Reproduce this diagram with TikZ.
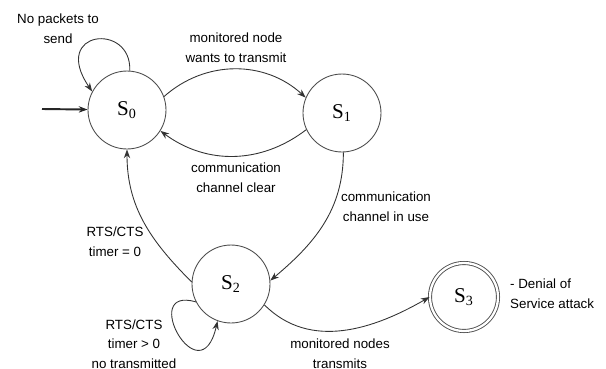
\documentclass[tikz,border=0pt]{standalone}
\usepackage{fontspec}
\setmainfont{Liberation Sans}
\newfontfamily\statefont{Liberation Serif}
\usetikzlibrary{arrows.meta}

\begin{document}
\begin{tikzpicture}[>={Stealth[length=5pt,width=3.6pt]},x=0.02cm,y=-0.02cm,
		state/.style={circle,draw=black!70,line width=0.5pt,minimum size=1.56cm,inner sep=0pt,
			font=\statefont\fontsize{12}{14}\selectfont},
		accept/.style={state,double,double distance=1.3pt,minimum size=1.36cm},
		lbl/.style={align=center,font=\fontsize{7.6}{11.2}\selectfont},
		trans/.style={->,draw=black!80,line width=0.5pt}]
	\useasboundingbox (0,0) rectangle (606,369);
	% states
	\node[state] (s0) at (127,110) {S\textsubscript{0}};
	\node[state] (s1) at (342,113) {S\textsubscript{1}};
	\node[state] (s2) at (231,284) {S\textsubscript{2}};
	\node[accept] (s3) at (464,297) {S\textsubscript{3}};
	\coordinate (init) at (42,109);
	% transitions
	\draw[->,line width=1.1pt,black!85] (init) -- (s0);
	\draw[trans] (s0.86) .. controls (132,22) and (50,30) .. (s0.152);
	\draw[trans] (s0.20) to[bend left=42] (s1.157);
	\draw[trans] (s1.205) to[bend left=37] (s0.328);
	\draw[trans] (s1.272) to[out=-90,in=40] (s2.5);
	\draw[trans] (s2.177) to[out=135,in=-90] (s0.270);
	\draw[trans] (s2.207) .. controls (138,285) and (200,398) .. (s2.250);
	\draw[trans] (s2.-32) to[out=-45,in=210] (s3.180);
	% labels
	\node[lbl] (nopkt) at (58,29) {No packets to\\send};
	\node[lbl] (wants) at (236,48) {monitored node\\wants to transmit};
	\node[lbl] (clear) at (236,178) {communication\\channel clear};
	\node[lbl] (inuse) at (386,207) {communication\\channel in use};
	\node[lbl] (tzero) at (115,242) {RTS/CTS\\timer = 0};
	\node[lbl] (tpos) at (134,344) {RTS/CTS\\timer > 0\\no transmitted};
	\node[lbl] (trans) at (340,354) {monitored nodes\\transmits};
	\node[lbl,align=left,anchor=west] (dos) at (504,294) {- Denial of\\Service attack};
\end{tikzpicture}
\end{document}
